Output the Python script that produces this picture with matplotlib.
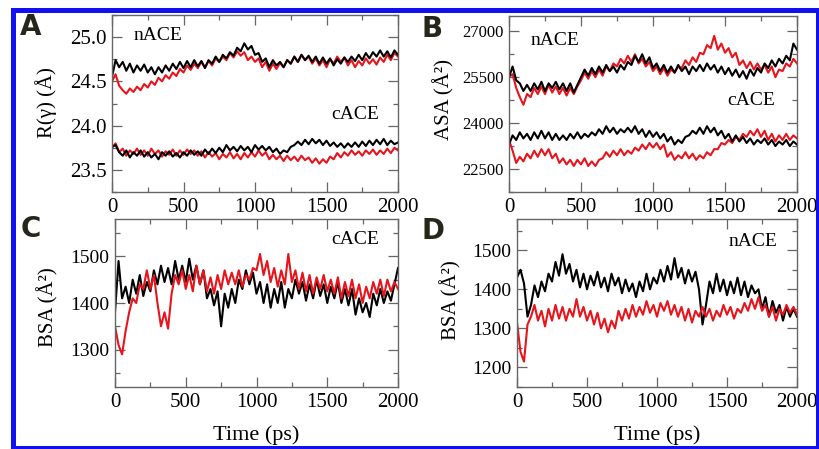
"""Four panel MD trace figure (Rg, ASA, BSA of nACE / cACE)"""

import matplotlib
matplotlib.use("Agg")
import matplotlib.pyplot as plt
from matplotlib.patches import Rectangle
from matplotlib.ticker import MultipleLocator
import numpy as np

plt.rcParams["font.family"] = "serif"
plt.rcParams["font.serif"] = ["Liberation Serif", "DejaVu Serif"]

# values, every 25 ps from 0 to 2000 ps
# panel A, radius of gyration (A)
rg_nace_red = [24.50, 24.58, 24.45, 24.40, 24.36, 24.42, 24.38, 24.44, 24.40, 24.47,
               24.43, 24.50, 24.46, 24.54, 24.50, 24.57, 24.53, 24.60, 24.56, 24.64,
               24.60, 24.68, 24.63, 24.70, 24.65, 24.72, 24.66, 24.73, 24.68, 24.76,
               24.72, 24.78, 24.74, 24.82, 24.77, 24.84, 24.79, 24.83, 24.74, 24.78,
               24.72, 24.76, 24.66, 24.72, 24.62, 24.70, 24.64, 24.71, 24.66, 24.74,
               24.70, 24.78, 24.72, 24.80, 24.74, 24.78, 24.70, 24.76, 24.68, 24.74,
               24.66, 24.75, 24.70, 24.78, 24.72, 24.77, 24.68, 24.74, 24.66, 24.73,
               24.68, 24.76, 24.70, 24.75, 24.69, 24.77, 24.72, 24.80, 24.74, 24.82, 24.78]
rg_nace_blk = [24.55, 24.74, 24.66, 24.72, 24.62, 24.70, 24.60, 24.68, 24.62, 24.69,
               24.60, 24.66, 24.58, 24.66, 24.60, 24.68, 24.62, 24.70, 24.64, 24.72,
               24.65, 24.73, 24.66, 24.74, 24.67, 24.73, 24.65, 24.74, 24.70, 24.78,
               24.72, 24.80, 24.76, 24.83, 24.79, 24.88, 24.84, 24.93, 24.86, 24.90,
               24.80, 24.82, 24.72, 24.76, 24.66, 24.74, 24.68, 24.72, 24.66, 24.74,
               24.70, 24.78, 24.72, 24.80, 24.74, 24.79, 24.72, 24.78, 24.70, 24.77,
               24.70, 24.76, 24.68, 24.75, 24.70, 24.77, 24.72, 24.78, 24.73, 24.80,
               24.74, 24.82, 24.76, 24.83, 24.78, 24.85, 24.78, 24.84, 24.77, 24.85, 24.80]
rg_cace_red = [23.75, 23.80, 23.70, 23.74, 23.66, 23.72, 23.68, 23.74, 23.67, 23.72,
               23.66, 23.74, 23.68, 23.72, 23.65, 23.71, 23.67, 23.73, 23.66, 23.72,
               23.67, 23.73, 23.68, 23.72, 23.66, 23.71, 23.64, 23.70, 23.65, 23.69,
               23.62, 23.68, 23.64, 23.70, 23.63, 23.68, 23.62, 23.69, 23.64, 23.70,
               23.65, 23.72, 23.66, 23.70, 23.62, 23.67, 23.62, 23.66, 23.60, 23.66,
               23.61, 23.65, 23.60, 23.66, 23.61, 23.64, 23.58, 23.63, 23.57, 23.62,
               23.58, 23.65, 23.62, 23.69, 23.64, 23.70, 23.66, 23.72, 23.67, 23.71,
               23.66, 23.72, 23.68, 23.73, 23.67, 23.72, 23.68, 23.74, 23.69, 23.75, 23.72]
rg_cace_blk = [23.76, 23.78, 23.70, 23.66, 23.72, 23.64, 23.70, 23.66, 23.72, 23.65,
               23.70, 23.64, 23.68, 23.62, 23.70, 23.66, 23.71, 23.65, 23.69, 23.64,
               23.70, 23.66, 23.72, 23.67, 23.71, 23.66, 23.73, 23.68, 23.74, 23.69,
               23.75, 23.70, 23.78, 23.72, 23.76, 23.71, 23.77, 23.72, 23.76, 23.70,
               23.78, 23.73, 23.77, 23.72, 23.76, 23.70, 23.74, 23.68, 23.72, 23.70,
               23.76, 23.78, 23.82, 23.78, 23.84, 23.79, 23.85, 23.80, 23.84, 23.78,
               23.83, 23.77, 23.81, 23.76, 23.80, 23.75, 23.80, 23.76, 23.81, 23.76,
               23.82, 23.77, 23.83, 23.78, 23.84, 23.79, 23.85, 23.78, 23.83, 23.79, 23.81]

# panel B, accessible surface area (A^2)
asa_nace_red = [25500, 25600, 25150, 24850, 24600, 24950, 24850, 25150, 24950, 25200,
                24950, 25250, 25000, 25200, 24950, 25150, 24900, 25150, 24950, 25200,
                25400, 25650, 25450, 25700, 25500, 25750, 25550, 25850, 25700, 25950,
                25850, 26100, 25950, 26200, 26000, 26250, 25950, 26100, 25850, 26000,
                25700, 25850, 25600, 25800, 25550, 25750, 25650, 25850, 25800, 26050,
                25900, 26150, 26000, 26300, 26250, 26550, 26450, 26850, 26400, 26600,
                26300, 26450, 26150, 26300, 25900, 26050, 25800, 26000, 25750, 25950,
                25750, 25900, 25650, 25850, 25500, 25750, 25700, 25950, 25850, 26100, 25950]
asa_nace_blk = [25500, 25850, 25400, 25300, 25050, 25250, 25050, 25300, 25100, 25350,
                25050, 25300, 25150, 25350, 25100, 25300, 25050, 25300, 25000, 25250,
                25500, 25750, 25550, 25800, 25600, 25850, 25650, 25900, 25700, 25850,
                25650, 25900, 25750, 26000, 25900, 26200, 26000, 26250, 25950, 26150,
                25800, 25950, 25700, 25900, 25650, 25850, 25650, 25900, 25700, 25850,
                25600, 25850, 25700, 25900, 25700, 25950, 25750, 25900, 25650, 25850,
                25600, 25800, 25550, 25750, 25500, 25700, 25450, 25750, 25550, 25800,
                25650, 25950, 25800, 26050, 25850, 26100, 25950, 26200, 26050, 26600, 26400]
asa_cace_red = [23450, 23100, 22700, 22900, 22750, 23000, 22850, 23100, 22900, 23150,
                22950, 23150, 22850, 23000, 22700, 22850, 22650, 22800, 22600, 22800,
                22650, 22850, 22600, 22750, 22600, 22800, 22850, 23050, 22900, 23100,
                22950, 23150, 22950, 23100, 23000, 23200, 23100, 23300, 23150, 23350,
                23200, 23350, 23150, 23300, 22900, 23050, 22800, 22950, 22850, 23050,
                22850, 23000, 22800, 22950, 22850, 23050, 22950, 23150, 23150, 23350,
                23300, 23450, 23350, 23550, 23450, 23650, 23550, 23750, 23600, 23800,
                23550, 23750, 23450, 23650, 23400, 23600, 23450, 23650, 23450, 23600, 23500]
asa_cace_blk = [23300, 23600, 23450, 23700, 23500, 23650, 23450, 23700, 23500, 23750,
                23500, 23700, 23450, 23650, 23450, 23600, 23450, 23650, 23500, 23700,
                23500, 23650, 23550, 23700, 23600, 23800, 23650, 23900, 23700, 23850,
                23650, 23800, 23700, 23850, 23700, 23900, 23650, 23800, 23550, 23750,
                23550, 23700, 23500, 23650, 23400, 23550, 23300, 23450, 23350, 23550,
                23600, 23750, 23650, 23850, 23650, 23900, 23700, 23850, 23600, 23750,
                23500, 23650, 23400, 23600, 23400, 23550, 23350, 23500, 23300, 23450,
                23350, 23500, 23300, 23450, 23250, 23400, 23300, 23450, 23250, 23400, 23300]

# panel C, buried surface area, cACE
bsa_c_red = [1350, 1310, 1290, 1340, 1380, 1410, 1400, 1440, 1430, 1470,
             1430, 1460, 1400, 1350, 1380, 1345, 1420, 1460, 1440, 1470,
             1430, 1460, 1425, 1480, 1440, 1470, 1425, 1455, 1420, 1460,
             1430, 1470, 1440, 1465, 1440, 1470, 1435, 1460, 1450, 1475,
             1470, 1505, 1460, 1490, 1445, 1475, 1435, 1470, 1440, 1505,
             1445, 1470, 1430, 1465, 1425, 1460, 1420, 1455, 1430, 1460,
             1425, 1450, 1420, 1455, 1410, 1445, 1415, 1450, 1410, 1440,
             1400, 1435, 1410, 1445, 1420, 1450, 1415, 1450, 1425, 1445, 1430]
bsa_c_blk = [1380, 1490, 1410, 1435, 1400, 1450, 1420, 1460, 1415, 1445,
             1425, 1470, 1440, 1480, 1445, 1475, 1440, 1490, 1450, 1480,
             1445, 1495, 1450, 1480, 1440, 1470, 1410, 1430, 1395, 1425,
             1350, 1420, 1390, 1430, 1400, 1450, 1430, 1470, 1440, 1465,
             1420, 1445, 1400, 1440, 1390, 1430, 1400, 1445, 1390, 1430,
             1410, 1450, 1420, 1445, 1405, 1440, 1410, 1450, 1415, 1440,
             1400, 1435, 1410, 1445, 1400, 1430, 1395, 1430, 1375, 1410,
             1380, 1400, 1370, 1420, 1395, 1430, 1400, 1425, 1405, 1440, 1475]

# panel D, buried surface area, nACE
bsa_n_red = [1315, 1240, 1215, 1310, 1330, 1360, 1320, 1345, 1305, 1350,
             1320, 1360, 1325, 1355, 1320, 1350, 1330, 1375, 1330, 1355,
             1320, 1345, 1310, 1340, 1300, 1325, 1290, 1320, 1300, 1345,
             1320, 1350, 1325, 1360, 1330, 1355, 1335, 1370, 1340, 1360,
             1330, 1365, 1345, 1370, 1335, 1360, 1330, 1355, 1320, 1350,
             1315, 1345, 1330, 1355, 1330, 1350, 1320, 1345, 1330, 1360,
             1335, 1355, 1325, 1350, 1340, 1365, 1345, 1375, 1350, 1380,
             1345, 1360, 1330, 1355, 1320, 1350, 1335, 1360, 1340, 1355, 1335]
bsa_n_blk = [1430, 1450, 1415, 1330, 1360, 1410, 1380, 1420, 1395, 1440,
             1420, 1470, 1435, 1490, 1440, 1465, 1420, 1450, 1405, 1440,
             1400, 1435, 1410, 1445, 1405, 1430, 1395, 1440, 1410, 1430,
             1390, 1425, 1395, 1415, 1380, 1420, 1395, 1440, 1400, 1430,
             1415, 1450, 1420, 1460, 1425, 1480, 1430, 1455, 1415, 1450,
             1420, 1445, 1400, 1310, 1360, 1420, 1390, 1440, 1395, 1425,
             1385, 1420, 1390, 1430, 1385, 1420, 1380, 1410, 1390, 1400,
             1350, 1380, 1330, 1370, 1340, 1360, 1320, 1355, 1330, 1350, 1330]

RED = "#e8141c"
W, H = 819, 449


def box(left, top, right, bottom):
    """pixel box -> figure fraction rect"""
    return [left / W, 1 - bottom / H, (right - left) / W, (bottom - top) / H]


def trace(ax, vals, color):
    t = np.linspace(0, 2000, len(vals))
    ax.plot(t, vals, color=color, lw=1.5)


def setup(ax, ylim, major, minor, ysize):
    ax.set_xlim(0, 2000)
    ax.set_ylim(*ylim)
    ax.xaxis.set_major_locator(MultipleLocator(500))
    ax.xaxis.set_minor_locator(MultipleLocator(250))
    ax.yaxis.set_major_locator(MultipleLocator(major))
    ax.yaxis.set_minor_locator(MultipleLocator(minor))
    ax.tick_params(which="both", direction="in", top=True, right=True,
                   color="#666666", width=0.9)
    ax.tick_params(which="major", length=7)
    ax.tick_params(which="minor", length=3.5)
    ax.tick_params(axis="x", labelsize=15, pad=4)
    ax.tick_params(axis="y", labelsize=ysize, pad=4)
    for sp in ax.spines.values():
        sp.set_color("#666666")
        sp.set_linewidth(1.0)


fig = plt.figure(figsize=(W / 100, H / 100), dpi=100)

axA = fig.add_axes(box(112, 15, 398, 192))
trace(axA, rg_nace_red, RED)
trace(axA, rg_nace_blk, "black")
trace(axA, rg_cace_red, RED)
trace(axA, rg_cace_blk, "black")
setup(axA, (23.25, 25.25), 0.5, 0.25, 15)
axA.yaxis.set_major_formatter(plt.FormatStrFormatter("%.1f"))
axA.text(150, 25.02, "nACE", fontsize=14, va="center")
axA.text(1870, 24.125, "cACE", fontsize=14, va="center", ha="right")

axB = fig.add_axes(box(509, 16, 797, 192))
trace(axB, asa_nace_red, RED)
trace(axB, asa_nace_blk, "black")
trace(axB, asa_cace_red, RED)
trace(axB, asa_cace_blk, "black")
setup(axB, (21750, 27500), 1500, 750, 12)
axB.text(150, 26700, "nACE", fontsize=14, va="center")
axB.text(1845, 24750, "cACE", fontsize=14, va="center", ha="right")

axC = fig.add_axes(box(115, 219, 398, 387))
trace(axC, bsa_c_blk, "black")
trace(axC, bsa_c_red, RED)
setup(axC, (1220, 1580), 100, 50, 14)
axC.text(1870, 1535, "cACE", fontsize=14, va="center", ha="right")

axD = fig.add_axes(box(517, 219, 797, 387))
trace(axD, bsa_n_blk, "black")
trace(axD, bsa_n_red, RED)
setup(axD, (1150, 1580), 100, 50, 14)
axD.text(1860, 1523, "nACE", fontsize=14, va="center", ha="right")

# axis titles
fig.text(46 / W, 1 - 103 / H, "R(\u03b3) (\u00c5)", rotation=90, fontsize=15,
         ha="center", va="center")
fig.text(444 / W, 1 - 100 / H, "ASA (\u00c5\u00b2)", rotation=90, fontsize=15,
         ha="center", va="center")
fig.text(48 / W, 1 - 307 / H, "BSA (\u00c5\u00b2)", rotation=90, fontsize=15,
         ha="center", va="center")
fig.text(451 / W, 1 - 300 / H, "BSA (\u00c5\u00b2)", rotation=90, fontsize=15,
         ha="center", va="center")
fig.text(256 / W, 1 - 435 / H, "Time (ps)", fontsize=16, ha="center", va="center")
fig.text(657 / W, 1 - 435 / H, "Time (ps)", fontsize=16, ha="center", va="center")

# panel letters
for lab, x, y in [("A", 31, 27), ("B", 432, 29), ("C", 31, 229), ("D", 433, 231)]:
    fig.text(x / W, 1 - y / H, lab, fontsize=20, fontweight="bold",
             family="DejaVu Sans", color="#26261a", ha="center", va="center")

# blue frame round the figure
fig.patches.append(Rectangle((12.5 / W, 1 - 447.5 / H), 805 / W, 438 / H,
                             transform=fig.transFigure, fill=False,
                             edgecolor="#1010f0", linewidth=3.6))

fig.savefig("out.png", dpi=100)
